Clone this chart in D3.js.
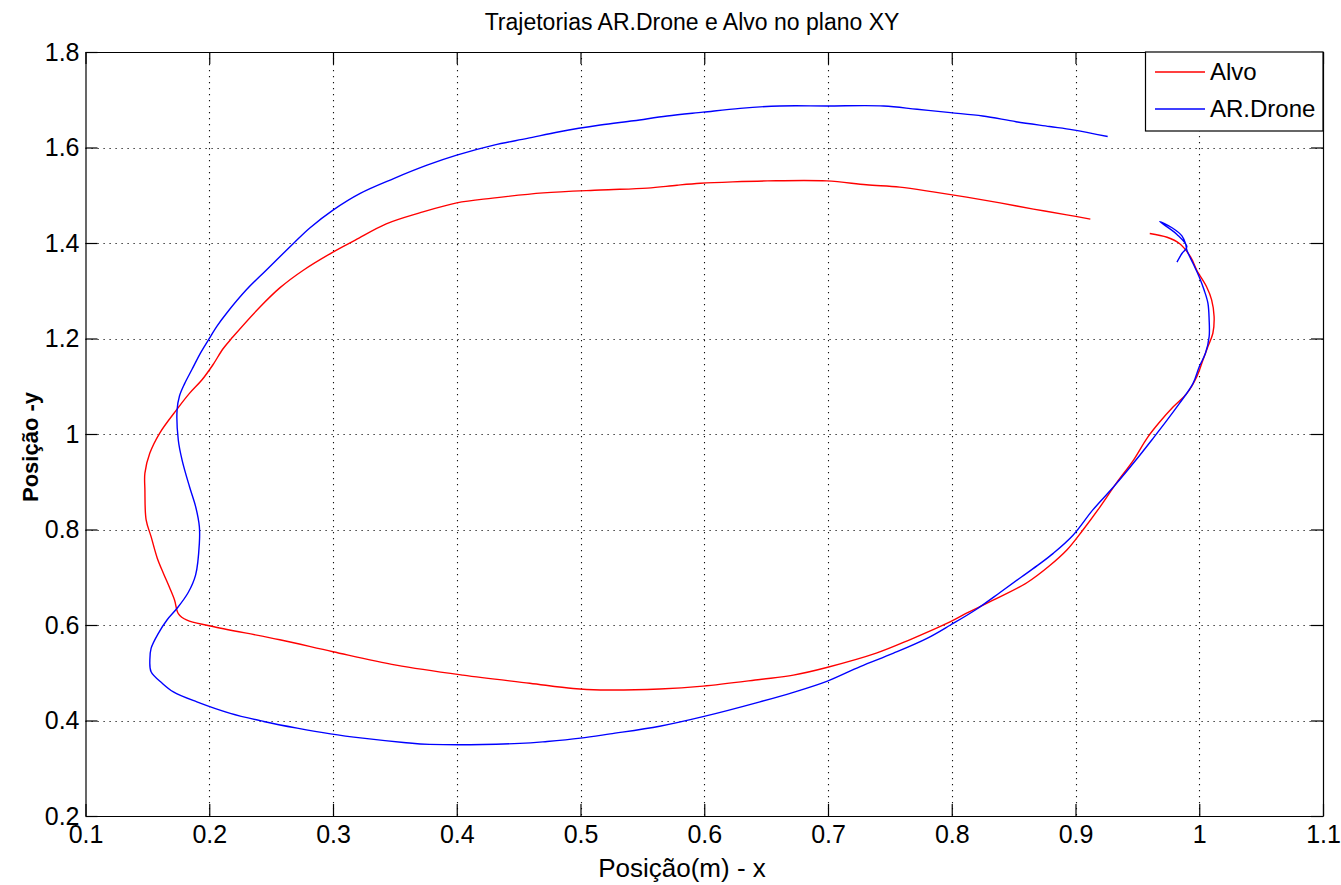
<!DOCTYPE html>
<html>
<head>
<meta charset="utf-8">
<script src="https://cdn.jsdelivr.net/npm/d3@7"></script>
<style>
  html, body { margin: 0; padding: 0; background: #fff; }
  svg text { font-family: "Liberation Sans", Arial, sans-serif; fill: #000; }
</style>
</head>
<body>
<svg id="chart" width="1341" height="885"></svg>
<script>
// ---- data ----
const title = "Trajetorias AR.Drone e Alvo no plano XY";
const xLabel = "Posição(m) - x";
const yLabel = "Posição -y";
const seriesNames = ["Alvo", "AR.Drone"];
const xTicks = [0.1, 0.2, 0.3, 0.4, 0.5, 0.6, 0.7, 0.8, 0.9, 1.0, 1.1];
const yTicks = [0.2, 0.4, 0.6, 0.8, 1.0, 1.2, 1.4, 1.6, 1.8];

const alvoX = [0.960,0.974,0.984,0.993,0.998,1.006,1.010,1.012,1.011,1.007,1.003,0.998,0.990,0.979,0.968,0.958,0.947,0.933,0.920,0.906,0.893,0.879,0.861,0.836,0.810,0.799,0.766,0.739,0.699,0.672,0.645,0.599,0.564,0.516,0.494,0.459,0.405,0.351,0.300,0.257,0.201,0.182,0.175,0.172,0.168,0.163,0.158,0.153,0.149,0.148,0.148,0.152,0.160,0.174,0.184,0.194,0.203,0.211,0.219,0.241,0.257,0.276,0.300,0.318,0.343,0.370,0.400,0.429,0.470,0.516,0.554,0.578,0.597,0.623,0.651,0.699,0.731,0.758,0.785,0.812,0.839,0.866,0.893,0.912];
const alvoY = [1.420,1.412,1.399,1.371,1.343,1.308,1.281,1.246,1.211,1.183,1.155,1.120,1.085,1.057,1.025,0.992,0.946,0.897,0.848,0.799,0.757,0.724,0.689,0.655,0.622,0.607,0.569,0.541,0.511,0.495,0.486,0.472,0.466,0.464,0.467,0.478,0.495,0.516,0.544,0.569,0.598,0.610,0.624,0.652,0.678,0.708,0.740,0.785,0.820,0.883,0.918,0.960,1.002,1.052,1.085,1.113,1.145,1.178,1.203,1.266,1.306,1.343,1.381,1.406,1.440,1.463,1.484,1.494,1.505,1.511,1.515,1.521,1.525,1.528,1.530,1.530,1.522,1.517,1.507,1.496,1.484,1.471,1.459,1.450];

const droneX = [0.982,0.986,0.990,0.982,0.968,0.978,0.986,0.989,0.990,0.995,1.000,1.004,1.007,1.008,1.008,1.005,1.000,0.995,0.984,0.974,0.963,0.949,0.931,0.914,0.898,0.882,0.871,0.856,0.839,0.820,0.799,0.780,0.753,0.726,0.699,0.672,0.645,0.599,0.564,0.524,0.500,0.473,0.451,0.378,0.357,0.324,0.298,0.271,0.244,0.217,0.190,0.171,0.162,0.153,0.152,0.153,0.159,0.166,0.174,0.183,0.189,0.192,0.192,0.189,0.184,0.178,0.175,0.174,0.176,0.180,0.186,0.193,0.201,0.206,0.214,0.230,0.246,0.268,0.281,0.300,0.322,0.349,0.376,0.400,0.430,0.457,0.483,0.516,0.543,0.570,0.599,0.629,0.661,0.699,0.745,0.772,0.799,0.825,0.852,0.879,0.898,0.926];
const droneY = [1.360,1.378,1.392,1.418,1.445,1.432,1.415,1.398,1.385,1.357,1.329,1.301,1.274,1.239,1.204,1.169,1.141,1.106,1.064,1.029,0.992,0.946,0.890,0.841,0.788,0.750,0.728,0.700,0.668,0.633,0.600,0.572,0.541,0.513,0.482,0.459,0.439,0.408,0.388,0.372,0.363,0.356,0.352,0.350,0.354,0.363,0.372,0.384,0.398,0.415,0.439,0.460,0.478,0.502,0.527,0.551,0.583,0.611,0.635,0.668,0.705,0.771,0.806,0.848,0.890,0.946,0.987,1.050,1.080,1.105,1.135,1.170,1.204,1.225,1.253,1.302,1.343,1.399,1.431,1.469,1.504,1.535,1.563,1.584,1.605,1.619,1.633,1.647,1.656,1.666,1.674,1.682,1.687,1.687,1.687,1.680,1.673,1.666,1.654,1.644,1.637,1.623];

// ---- layout ----
const L = 85.5, R = 1323, T = 52, B = 816;
const svg = d3.select("#chart");
const x = d3.scaleLinear().domain([0.1, 1.1]).range([L, R]);
const y = d3.scaleLinear().domain([0.2, 1.8]).range([B, T]);

svg.append("rect").attr("x", 0).attr("y", 0).attr("width", 1341).attr("height", 885).attr("fill", "#fff");

// grid
const grid = svg.append("g").attr("stroke", "#111").attr("stroke-width", 1.1).attr("stroke-dasharray", "1.2,4.8");
grid.selectAll("line.gx").data(xTicks.slice(1, -1)).join("line")
  .attr("x1", d => Math.round(x(d)) + 0.5).attr("x2", d => Math.round(x(d)) + 0.5)
  .attr("y1", T).attr("y2", B);
grid.selectAll("line.gy").data(yTicks.slice(1, -1)).join("line")
  .attr("y1", d => Math.round(y(d)) + 0.5).attr("y2", d => Math.round(y(d)) + 0.5)
  .attr("x1", L).attr("x2", R);

// axes
const tk = 12;
const fmtX = d => (d === 1 ? "1" : d3.format(".1f")(d));
const gB = svg.append("g").attr("transform", `translate(0,${B})`)
  .call(d3.axisBottom(x).tickValues(xTicks).tickFormat(fmtX).tickSizeInner(-tk).tickSizeOuter(0).tickPadding(9));
const gL = svg.append("g").attr("transform", `translate(${L},0)`)
  .call(d3.axisLeft(y).tickValues(yTicks).tickFormat(fmtX).tickSizeInner(-tk).tickSizeOuter(0).tickPadding(6));
const gT = svg.append("g").attr("transform", `translate(0,${T})`)
  .call(d3.axisTop(x).tickValues(xTicks).tickFormat("").tickSizeInner(-tk).tickSizeOuter(0));
const gR = svg.append("g").attr("transform", `translate(${R},0)`)
  .call(d3.axisRight(y).tickValues(yTicks).tickFormat("").tickSizeInner(-tk).tickSizeOuter(0));
[gB, gL, gT, gR].forEach(g => {
  g.selectAll("path.domain").attr("stroke", "#000").attr("stroke-width", 1.2);
  g.selectAll(".tick line").attr("stroke", "#000").attr("stroke-width", 1.2);
  g.selectAll("text").attr("font-size", 25).attr("font-family", "Liberation Sans, Arial, sans-serif").attr("fill", "#000");
});

// series lines
const line = d3.line().x(d => x(d[0])).y(d => y(d[1])).curve(d3.curveCatmullRom.alpha(0.5));
const alvo = alvoX.map((v, i) => [v, alvoY[i]]);
const drone = droneX.map((v, i) => [v, droneY[i]]);
svg.append("path").datum(alvo).attr("d", line).attr("fill", "none").attr("stroke", "#ff0000").attr("stroke-width", 1.4);
svg.append("path").datum(drone).attr("d", line).attr("fill", "none").attr("stroke", "#0000ff").attr("stroke-width", 1.4);

// title and labels
svg.append("text").attr("x", 692).attr("y", 30).attr("text-anchor", "middle")
  .attr("font-size", 23).text(title);
svg.append("text").attr("x", 682).attr("y", 877).attr("text-anchor", "middle")
  .attr("font-size", 26).text(xLabel);
svg.append("text").attr("transform", `translate(38,447) rotate(-90)`).attr("text-anchor", "middle")
  .attr("font-size", 22).attr("font-weight", "bold").text(yLabel);

// legend
const lg = svg.append("g");
lg.append("rect").attr("x", 1145.5).attr("y", T).attr("width", R - 1145.5).attr("height", 79)
  .attr("fill", "#fff").attr("stroke", "#000").attr("stroke-width", 1.2);
const colors = ["#ff0000", "#0000ff"];
const ly = [72, 109];
seriesNames.forEach((n, i) => {
  lg.append("line").attr("x1", 1155).attr("x2", 1205).attr("y1", ly[i]).attr("y2", ly[i])
    .attr("stroke", colors[i]).attr("stroke-width", 1.4);
  lg.append("text").attr("x", 1210).attr("y", ly[i]).attr("dy", "0.35em").attr("font-size", 24).text(n);
});
</script>
</body>
</html>
